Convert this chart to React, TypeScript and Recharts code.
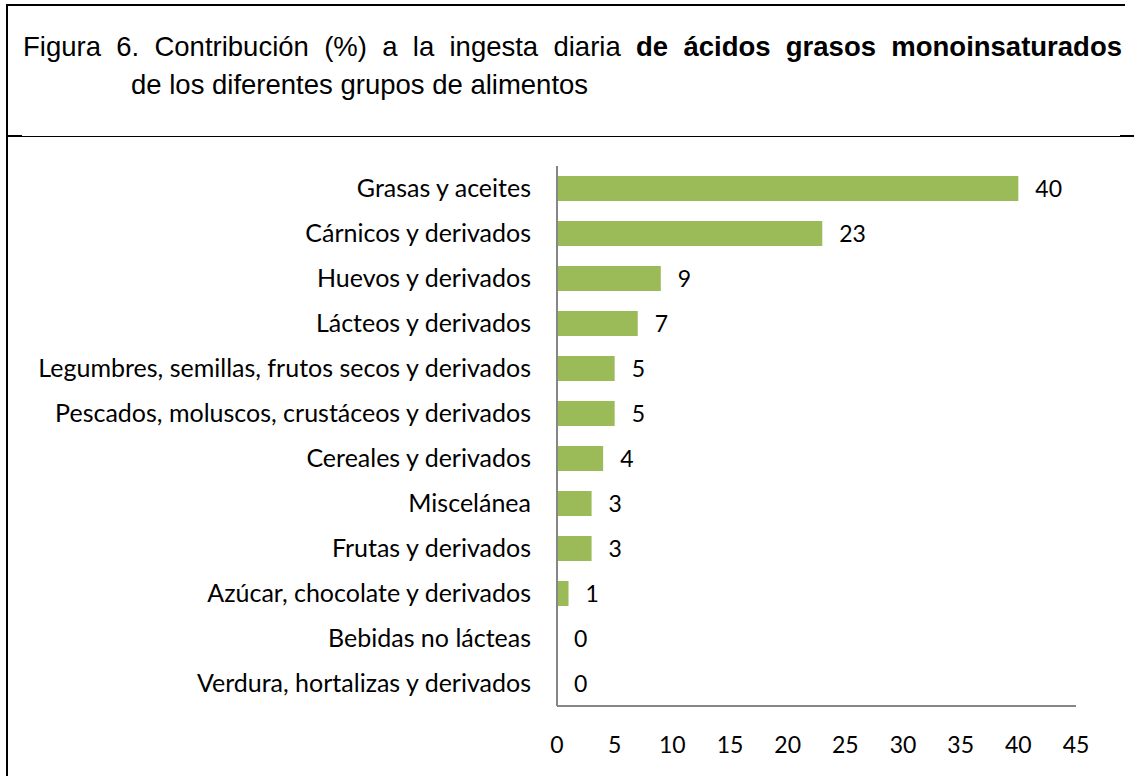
import { Bar, BarChart, LabelList, XAxis, YAxis } from "recharts";
import { JSX } from "react";

const categories = [
  "Grasas y aceites",
  "Cárnicos y derivados",
  "Huevos y derivados",
  "Lácteos y derivados",
  "Legumbres, semillas, frutos secos y derivados",
  "Pescados, moluscos, crustáceos y derivados",
  "Cereales y derivados",
  "Miscelánea",
  "Frutas y derivados",
  "Azúcar, chocolate y derivados",
  "Bebidas no lácteas",
  "Verdura, hortalizas y derivados",
];
const values = [40, 23, 9, 7, 5, 5, 4, 3, 3, 1, 0, 0];
const xTicks = [0, 5, 10, 15, 20, 25, 30, 35, 40, 45];

const data = categories.map((name, i) => ({ name, value: values[i] }));

const labelFont = "Lato, 'Open Sans', sans-serif";
const titleFont = "'Liberation Sans', Arial, sans-serif";

export default function App(): JSX.Element {
  return (
    <div
      style={{
        position: "absolute",
        left: 0,
        top: 0,
        width: 1134,
        height: 776,
        background: "#fff",
        overflow: "hidden",
      }}
    >
      {/* frame */}
      <div style={{ position: "absolute", left: 6, top: 4, width: 1119, height: 2, background: "#000" }} />
      <div style={{ position: "absolute", left: 6, top: 4, width: 2, height: 772, background: "#000" }} />
      <div style={{ position: "absolute", left: 8, top: 136, width: 1112, height: 1, background: "#000" }} />
      <div style={{ position: "absolute", left: 8, top: 135, width: 14, height: 2, background: "#000" }} />
      <div style={{ position: "absolute", left: 1120, top: 135, width: 14, height: 2, background: "#000" }} />

      {/* title */}
      <div
        style={{
          position: "absolute",
          left: 23,
          top: 30,
          width: 1099,
          fontFamily: titleFont,
          fontSize: 27.5,
          lineHeight: "33px",
          whiteSpace: "nowrap",
          textAlign: "justify",
          textAlignLast: "justify",
          color: "#000",
        }}
      >
        Figura 6. Contribución (%) a la ingesta diaria <b>de ácidos grasos monoinsaturados</b>
      </div>
      <div
        style={{
          position: "absolute",
          left: 131,
          top: 68,
          fontFamily: titleFont,
          fontSize: 27.5,
          lineHeight: "33px",
          whiteSpace: "nowrap",
          color: "#000",
        }}
      >
        de los diferentes grupos de alimentos
      </div>

      <div style={{ position: "absolute", left: 0, top: 0 }}>
        <BarChart
          width={1134}
          height={776}
          data={data}
          layout="vertical"
          margin={{ top: 166, right: 58, bottom: 30, left: 0 }}
        >
          <XAxis
            type="number"
            domain={[0, 45]}
            ticks={xTicks}
            interval={0}
            height={40}
            axisLine={{ stroke: "#868686", strokeWidth: 2 }}
            tickLine={false}
            tickSize={0}
            tickMargin={31}
            tick={{ fill: "#000", fontSize: 23, fontFamily: labelFont }}
          />
          <YAxis
            type="category"
            dataKey="name"
            width={557}
            interval={0}
            axisLine={{ stroke: "#868686", strokeWidth: 2 }}
            tickLine={false}
            tickSize={0}
            tickMargin={26}
            tick={{ fill: "#000", fontSize: 25, fontFamily: labelFont }}
          />
          <Bar
            dataKey="value"
            fill="#9bbb59"
            barSize={25}
            minPointSize={0.01}
            isAnimationActive={false}
          >
            <LabelList
              dataKey="value"
              position="right"
              offset={17}
              fill="#000"
              fontSize={23}
              fontFamily={labelFont}
            />
          </Bar>
        </BarChart>
      </div>
    </div>
  );
}
